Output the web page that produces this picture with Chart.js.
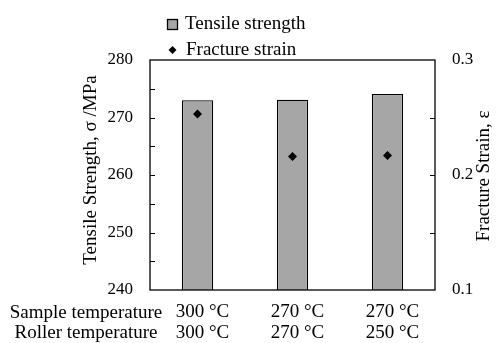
<!DOCTYPE html>
<html>
<head>
<meta charset="utf-8">
<script src="https://cdn.jsdelivr.net/npm/chart.js@4/dist/chart.umd.min.js"></script>
<style>
html,body{margin:0;padding:0;background:#fff;}
#wrap{width:502px;height:343px;position:relative;}
</style>
</head>
<body>
<div id="wrap"><canvas id="c" width="502" height="343"></canvas></div>
<script>
const sampleTemps = ['300 °C', '270 °C', '270 °C'];
const rollerTemps = ['300 °C', '270 °C', '250 °C'];
const tensileStrength = [273.0, 273.1, 274.1];
const fractureStrain = [0.253, 0.216, 0.217];
const rowTitles = ['Sample temperature', 'Roller temperature'];
const seriesNames = ['Tensile strength', 'Fracture strain'];
const yLeftTitle = 'Tensile Strength, σ /MPa';
const yRightTitle = 'Fracture Strain, ε';

const FONT = "'Liberation Serif', 'Times New Roman', serif";
const labels = sampleTemps.map((s, i) => [s, rollerTemps[i]]);

const decor = {
  id: 'decor',
  afterDraw(chart) {
    const ctx = chart.ctx;
    const a = chart.chartArea;
    const yL = chart.scales.y, yR = chart.scales.y1, xs = chart.scales.x;
    ctx.save();
    ctx.strokeStyle = '#000';
    ctx.lineWidth = 1.3;
    ctx.strokeRect(a.left, a.top, a.right - a.left, a.bottom - a.top);
    // inner ticks
    ctx.lineWidth = 1;
    yL.ticks.forEach(t => {
      if (t.value <= yL.min || t.value >= yL.max) return;
      const p = Math.round(yL.getPixelForValue(t.value)) + 0.5;
      ctx.beginPath(); ctx.moveTo(a.left, p); ctx.lineTo(a.left + 5, p); ctx.stroke();
    });
    yR.ticks.forEach(t => {
      if (t.value <= yR.min + 1e-9 || t.value >= yR.max - 1e-9) return;
      const p = Math.round(yR.getPixelForValue(t.value)) + 0.5;
      ctx.beginPath(); ctx.moveTo(a.right, p); ctx.lineTo(a.right - 5, p); ctx.stroke();
    });
    ctx.fillStyle = '#000';
    ctx.font = '19px ' + FONT;
    ctx.textBaseline = 'middle';
    // axis titles
    ctx.save();
    ctx.translate(91, 170);
    ctx.rotate(-Math.PI / 2);
    ctx.textAlign = 'center';
    ctx.fillText(yLeftTitle, 0, 0);
    ctx.restore();
    ctx.save();
    ctx.translate(484, 176);
    ctx.rotate(-Math.PI / 2);
    ctx.textAlign = 'center';
    ctx.fillText(yRightTitle, 0, 0);
    ctx.restore();
    // row titles
    ctx.textAlign = 'center';
    rowTitles.forEach((t, i) => ctx.fillText(t, 86, xs.top + 23 + i * 20.5));
    // legend
    ctx.textAlign = 'left';
    const ds0 = chart.data.datasets[0];
    ctx.fillStyle = ds0.backgroundColor;
    ctx.fillRect(167.5, 19.5, 10, 10);
    ctx.strokeStyle = '#000';
    ctx.lineWidth = 1.3;
    ctx.strokeRect(167.5, 19.5, 10, 10);
    ctx.fillStyle = '#000';
    ctx.fillText(seriesNames[0], 185, 24);
    ctx.beginPath();
    ctx.moveTo(172.5, 46); ctx.lineTo(176.5, 50); ctx.lineTo(172.5, 54); ctx.lineTo(168.5, 50); ctx.closePath();
    ctx.fill();
    ctx.fillText(seriesNames[1], 186, 50);
    ctx.restore();
  }
};

new Chart(document.getElementById('c'), {
  type: 'bar',
  data: {
    labels: labels,
    datasets: [
      {
        label: seriesNames[0],
        data: tensileStrength,
        yAxisID: 'y',
        backgroundColor: '#a6a6a6',
        borderColor: '#000',
        borderWidth: 1.3,
        borderSkipped: false,
        barPercentage: 0.33,
        categoryPercentage: 1,
        order: 2
      },
      {
        type: 'line',
        label: seriesNames[1],
        data: fractureStrain,
        yAxisID: 'y1',
        showLine: false,
        pointStyle: 'rectRot',
        pointRadius: 4.5,
        pointBackgroundColor: '#000',
        pointBorderColor: '#000',
        pointBorderWidth: 0,
        order: 1
      }
    ]
  },
  options: {
    responsive: false,
    animation: false,
    devicePixelRatio: 1,
    layout: { padding: { left: 0, right: 0, top: 60, bottom: 0 } },
    plugins: { legend: { display: false }, tooltip: { enabled: false } },
    scales: {
      x: {
        offset: true,
        grid: { display: false, drawTicks: false },
        border: { display: false },
        ticks: { color: '#000', font: { family: FONT, size: 19, lineHeight: 1.08 }, padding: 12, labelOffset: 5, maxRotation: 0 },
        afterFit(s) { s.height = 53; }
      },
      y: {
        position: 'left',
        min: 240, max: 280,
        grid: { display: false, drawTicks: false },
        border: { display: false },
        ticks: {
          stepSize: 5, color: '#000', padding: 17,
          font: { family: FONT, size: 17 },
          callback: v => (v % 10 === 0 ? String(v) : '')
        },
        afterFit(s) { s.width = 150; }
      },
      y1: {
        position: 'right',
        min: 0.1, max: 0.3,
        grid: { display: false, drawTicks: false },
        border: { display: false },
        ticks: {
          stepSize: 0.05, color: '#000', padding: 17,
          font: { family: FONT, size: 17 },
          callback: v => {
            const r = Math.round(v * 100);
            return r % 10 === 0 ? (r / 100).toFixed(1) : '';
          }
        },
        afterFit(s) { s.width = 67; }
      }
    }
  },
  plugins: [decor]
});
</script>
</body>
</html>
